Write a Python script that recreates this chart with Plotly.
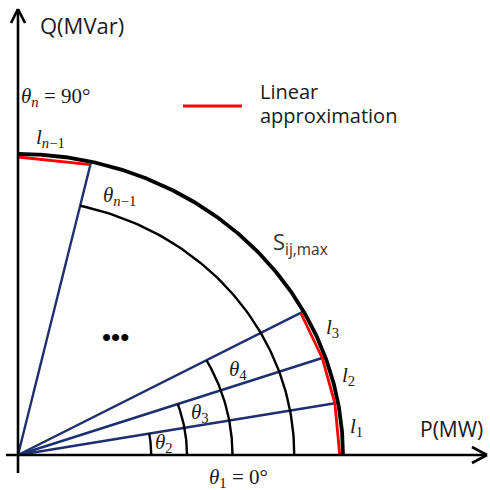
import numpy as np
import plotly.graph_objects as go

# ---- data (angles in degrees, radii in units of S_ij,max) ----
boundary_angles_deg = [0, 10, 19, 28.5, 77, 90]        # theta_1 ... theta_n
sector_line_angles_deg = [10, 19, 28.5, 77]            # drawn sector boundaries
chord_pairs_deg = [(0, 10), (10, 19), (19, 28.5), (77, 90)]  # linear approximation segments
angle_arc_ends_deg = [10, 19, 28.5, 77]                # theta_2, theta_3, theta_4, theta_{n-1}
angle_arc_radii = [0.41, 0.52, 0.66, 0.85]
s_max = 1.0

# pixel geometry of the reference (origin and unit lengths)
OX, OY, UX, UY, W = 18, 455, 325, 301, 490

def P(px, py):
    return ((px - OX) / UX, (py * -1 + OY) / UY)

def paper(px, py):
    return px / W, 1 - py / W

BLUE = "#1c2f6e"
RED = "#ff0000"
BLACK = "#000000"
TXT = "#1a1a1a"

fig = go.Figure()

# sector lines
for a in sector_line_angles_deg:
    t = np.deg2rad(a)
    fig.add_trace(go.Scatter(x=[0, s_max * np.cos(t)], y=[0, s_max * np.sin(t)],
                             mode="lines", line=dict(color=BLUE, width=2.4), hoverinfo="skip"))

# angle arcs
for a, r in zip(angle_arc_ends_deg, angle_arc_radii):
    t = np.linspace(0, np.deg2rad(a), 80)
    fig.add_trace(go.Scatter(x=r * np.cos(t), y=r * np.sin(t), mode="lines",
                             line=dict(color=BLACK, width=2.4), hoverinfo="skip"))

# outer circle S_ij,max
t = np.linspace(0, np.pi / 2, 300)
fig.add_trace(go.Scatter(x=s_max * np.cos(t), y=s_max * np.sin(t), mode="lines",
                         line=dict(color=BLACK, width=3.8), hoverinfo="skip"))

# linear approximation chords
for a0, a1 in chord_pairs_deg:
    t0, t1 = np.deg2rad(a0), np.deg2rad(a1)
    r = s_max * 0.99
    fig.add_trace(go.Scatter(x=[r * np.cos(t0), r * np.cos(t1)],
                             y=[r * np.sin(t0), r * np.sin(t1)],
                             mode="lines", line=dict(color=RED, width=2.8), hoverinfo="skip"))

shapes = []
def seg(p, q, w=2.6, color=BLACK):
    (x0, y0), (x1, y1) = P(*p), P(*q)
    shapes.append(dict(type="line", x0=x0, y0=y0, x1=x1, y1=y1, xref="x", yref="y",
                       line=dict(color=color, width=w)))

# axes with open arrow heads
seg((6, 455), (487, 455))
seg((18, 473), (18, 9))
seg((472, 447), (487, 455)); seg((472, 463), (487, 455))
seg((11, 23), (18, 9)); seg((25, 23), (18, 9))
# legend sample line
seg((183, 106), (242, 106), w=3, color=RED)
fig.update_layout(shapes=shapes)

ann = []
def text(s, px, py, size, family, xanchor="center", color=TXT):
    x, y = paper(px, py)
    ann.append(dict(text=s, x=x, y=y, xref="paper", yref="paper", showarrow=False,
                    xanchor=xanchor, yanchor="middle",
                    font=dict(size=size, family=family, color=color)))

SANS = "Open Sans"
SERIF = "Liberation Serif"
text("Q(MVar)", 82, 25, 22, SANS)
text("P(MW)", 451, 429, 21, SANS)
text("Linear", 258, 91, 20, SANS, xanchor="left")
text("approximation", 258, 116, 20, SANS, xanchor="left")
text("<i>θ</i><sub><i>n</i></sub> = 90°", 55, 97, 21, SERIF)
text("<i>l</i><sub><i>n</i>−1</sub>", 50, 138, 21, SERIF)
text("<i>θ</i><sub><i>n</i>−1</sub>", 119, 196, 21, SERIF)
text("S<sub>ij,max</sub>", 300, 243, 22, SANS, color="#333333")
text("<i>l</i><sub>3</sub>", 332, 328, 21, SERIF)
text("<i>l</i><sub>2</sub>", 348, 376, 21, SERIF)
text("<i>l</i><sub>1</sub>", 356, 427, 21, SERIF)
text("<i>θ</i><sub>4</sub>", 238, 370, 21, SERIF)
text("<i>θ</i><sub>3</sub>", 200, 413, 21, SERIF)
text("<i>θ</i><sub>2</sub>", 164, 443, 21, SERIF)
text("<i>θ</i><sub>1</sub> = 0°", 238, 478, 21, SERIF)
text("<b>•••</b>", 115, 337, 26, SERIF, color=BLACK)

fig.update_layout(
    annotations=ann,
    width=490, height=490,
    margin=dict(l=0, r=0, t=0, b=0),
    paper_bgcolor="white", plot_bgcolor="white",
    showlegend=False,
    xaxis=dict(range=[-OX / UX, (W - OX) / UX], visible=False, fixedrange=True),
    yaxis=dict(range=[-(W - OY) / UY, OY / UY], visible=False, fixedrange=True),
)

fig.write_html("out.html", config={"displayModeBar": False},
               post_script="document.body.style.margin='0';document.body.style.overflow='hidden';")
